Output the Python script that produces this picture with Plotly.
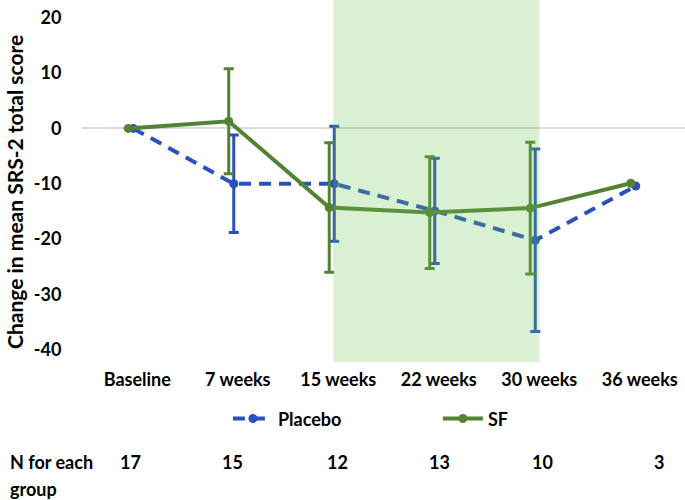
import plotly.graph_objects as go

categories = ["Baseline", "7 weeks", "15 weeks", "22 weeks", "30 weeks", "36 weeks"]
placebo_mean = [0, -10.0, -10.0, -14.9, -20.2, -10.4]
placebo_err = [None, 8.8, 10.4, 9.5, 16.5, None]
sf_mean = [0, 1.3, -14.3, -15.2, -14.4, -9.9]
sf_err = [None, 9.5, 11.7, 10.1, 11.9, None]
n_per_group = [17, 15, 12, 13, 10, 3]
y_ticks = [-40, -30, -20, -10, 0, 10, 20]
y_tick_labels = [str(v) for v in y_ticks]

FONT = "Lato, Roboto, sans-serif"
FS = 18
BLUE = "#2B50BB"
GREEN = "#548235"

x_sf = list(range(len(categories)))
x_pl = [i + 0.05 for i in x_sf]

fig = go.Figure()

def add_series(name, xs, ys, errs, color, dash):
    ex = [x for x, e in zip(xs, errs) if e is not None]
    ey = [y for y, e in zip(ys, errs) if e is not None]
    ee = [e for e in errs if e is not None]
    fig.add_trace(go.Scatter(
        x=ex, y=ey, mode="markers", showlegend=False, hoverinfo="skip",
        marker=dict(size=8, color=color),
        error_y=dict(type="data", array=ee, visible=True, color=color,
                     thickness=3, width=5)))
    fig.add_trace(go.Scatter(
        x=xs, y=ys, mode="lines+markers", name=name,
        line=dict(color=color, width=4, dash=dash),
        marker=dict(size=9, color=color)))

add_series("Placebo", x_pl, placebo_mean, placebo_err, BLUE, "12px,8px")
add_series("SF", x_sf, sf_mean, sf_err, GREEN, "solid")

# shaded treatment period
fig.add_shape(type="rect", xref="x", yref="paper", x0=2.04, x1=4.09, y0=0, y1=1,
              fillcolor="rgba(103,195,79,0.25)", line=dict(width=0), layer="above")

bold = dict(family=FONT, size=FS, color="#000", weight="bold")

# N per group row
n_shift = [0.02, 0.04, 0.08, 0.1, 0.12, 0.28]
for i, n in enumerate(n_per_group):
    fig.add_annotation(x=i + n_shift[i], y=-0.312, xref="x", yref="paper",
                       text=str(n), showarrow=False, font=bold)
fig.add_annotation(x=-0.123, y=-0.312, xref="paper", yref="paper",
                   text="N for each", showarrow=False, xanchor="left", font=bold)
fig.add_annotation(x=-0.123, y=-0.387, xref="paper", yref="paper",
                   text="group", showarrow=False, xanchor="left", font=bold)
# y axis title
fig.add_annotation(x=-0.111, y=0.47, xref="paper", yref="paper", textangle=-90,
                   xanchor="center", yanchor="middle",
                   text="Change in mean SRS-2 total score", showarrow=False,
                   font=dict(family=FONT, size=21, color="#000", weight="bold"))

fig.update_layout(
    width=685, height=500,
    margin=dict(l=82, r=0, t=0, b=138),
    paper_bgcolor="white", plot_bgcolor="white",
    font=dict(family=FONT, size=FS, color="#000"),
    showlegend=True,
    legend=dict(orientation="h", x=0.242, y=-0.157, xanchor="left", yanchor="middle",
                font=bold, itemwidth=40, entrywidth=155, entrywidthmode="pixels",
                bgcolor="rgba(0,0,0,0)"),
    xaxis=dict(range=[-0.46, 5.54], tickvals=[i + 0.09 for i in x_sf], ticktext=categories,
               showgrid=False, zeroline=False, showline=False, automargin=False,
               ticks="outside", ticklen=1, tickcolor="rgba(0,0,0,0)", tickfont=bold),
    yaxis=dict(range=[-42.2, 23.2], tickvals=y_ticks, ticktext=y_tick_labels,
               showgrid=False, automargin=False,
               zeroline=True, zerolinecolor="#D9D9D9", zerolinewidth=1.5,
               showline=False, ticks="outside", ticklen=16, tickcolor="rgba(0,0,0,0)",
               tickfont=bold),
)

fig.write_html("out.html", config={"displayModeBar": False},
               post_script="document.body.style.margin='0px';")
